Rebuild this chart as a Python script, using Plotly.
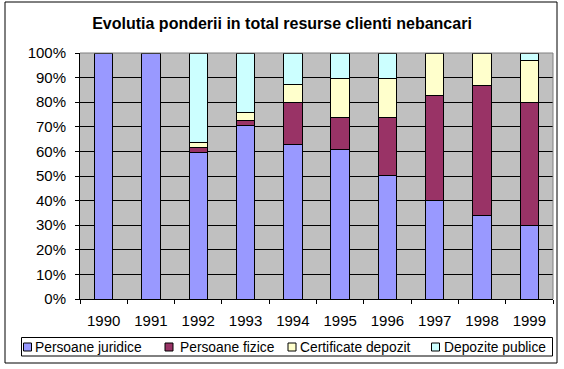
import plotly.graph_objects as go

years = ["1990", "1991", "1992", "1993", "1994", "1995", "1996", "1997", "1998", "1999"]
persoane_juridice = [100, 100, 59.5, 70.6, 62.9, 60.9, 50.3, 40.1, 34.0, 30.0]
persoane_fizice = [0, 0, 2.2, 2.0, 17.1, 13.0, 23.6, 42.7, 52.9, 50.0]
certificate_depozit = [0, 0, 2.1, 3.4, 7.0, 15.8, 15.8, 17.2, 13.1, 17.0]
depozite_publice = [0, 0, 36.2, 24.0, 13.0, 10.3, 10.3, 0, 0, 3.0]

series = [
    ("Persoane juridice", persoane_juridice, "#9999FF"),
    ("Persoane fizice", persoane_fizice, "#993366"),
    ("Certificate depozit", certificate_depozit, "#FFFFCC"),
    ("Depozite publice", depozite_publice, "#CCFFFF"),
]

FONT = "Liberation Sans, Arial, sans-serif"

fig = go.Figure()
for name, vals, col in series:
    fig.add_trace(go.Bar(
        x=years, y=vals, name=name,
        marker=dict(color=col, line=dict(color="black", width=1)),
    ))

# plot area in px: x 80..553, y 53..299
W, H = 564, 369
L, R, T, B = 80, 553, 53, 299
pw, ph = R - L, B - T

def px(x):
    return (x - L) / pw

def py(y):
    return (B - y) / ph

fig.update_layout(
    width=W, height=H,
    margin=dict(l=L, r=W - R, t=T, b=H - B, pad=0, autoexpand=False),
    barmode="stack",
    bargap=0.61,
    paper_bgcolor="white",
    plot_bgcolor="#C0C0C0",
    font=dict(family=FONT, size=15, color="black"),
    title=dict(text="<b>Evolutia ponderii in total resurse clienti nebancari</b>",
               x=0.5, xref="container", xanchor="center", y=1 - 23 / H, yanchor="middle",
               font=dict(size=16, family=FONT)),
    showlegend=False,
    xaxis=dict(type="category", tickson="boundaries", ticks="outside", ticklen=4,
               tickcolor="black", showline=True, linecolor="black", linewidth=1,
               showgrid=False, tickfont=dict(size=15), automargin=False,
               ticklabelstandoff=8),
    yaxis=dict(range=[0, 100], dtick=10, ticksuffix="%", ticks="outside", ticklen=4,
               tickcolor="black", showline=True, linecolor="black", linewidth=1,
               showgrid=True, gridcolor="black", gridwidth=1, zeroline=False,
               tickfont=dict(size=15), automargin=False, ticklabelstandoff=6),
)

# gray top/right border of plot area
fig.add_shape(type="line", xref="paper", yref="paper", x0=0, x1=1, y0=1, y1=1,
              line=dict(color="#808080", width=1))
fig.add_shape(type="line", xref="paper", yref="paper", x0=1, x1=1, y0=0, y1=1,
              line=dict(color="#808080", width=1))
# outer chart frame
fig.add_shape(type="rect", xref="paper", yref="paper",
              x0=px(5), x1=px(557), y0=py(363), y1=py(2),
              line=dict(color="black", width=1), fillcolor="rgba(0,0,0,0)")

# manual legend
fig.add_shape(type="rect", xref="paper", yref="paper",
              x0=px(21.5), x1=px(552.5), y0=py(356), y1=py(337.5),
              line=dict(color="black", width=1), fillcolor="white")
marker_x = [23.5, 165, 288, 431.5]
text_x = [33, 178, 298, 442]
for (name, vals, col), mx, tx in zip(series, marker_x, text_x):
    fig.add_shape(type="rect", xref="paper", yref="paper",
                  x0=px(mx), x1=px(mx + 8), y0=py(351), y1=py(343),
                  line=dict(color="black", width=1), fillcolor=col)
    fig.add_annotation(text=name, xref="paper", yref="paper", x=px(tx), y=py(347),
                       xanchor="left", yanchor="middle", showarrow=False,
                       font=dict(size=13.8, family=FONT, color="black"))

fig.write_html("out.html", config={"displayModeBar": False},
               post_script="document.body.style.margin='0px';")
